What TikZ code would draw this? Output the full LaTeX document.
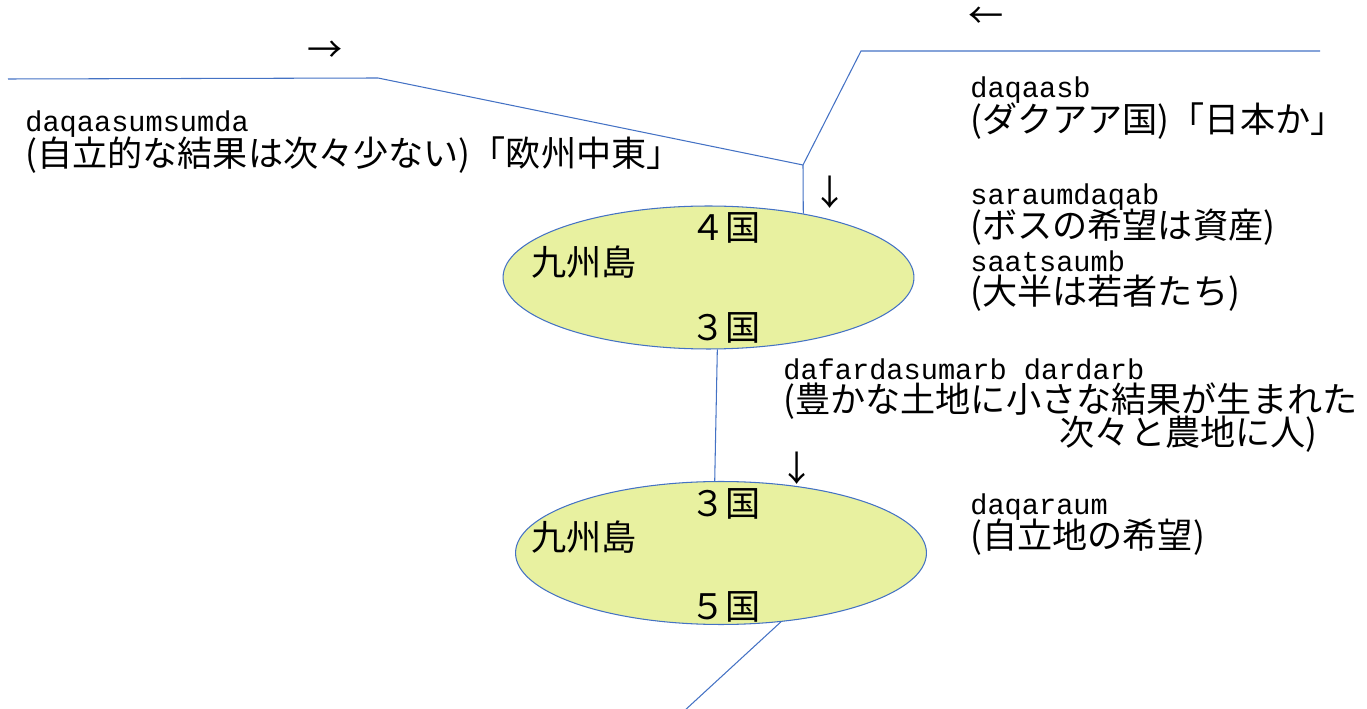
\documentclass[tikz,border=0pt]{standalone}
\usepackage{fontspec}
\usepackage{tikz}
\usetikzlibrary{shapes.geometric}
\newfontfamily\jpfont{Noto Sans CJK JP}
\newfontfamily\latinfont{Liberation Mono}
\definecolor{routeblue}{HTML}{4472C4}
\definecolor{islandfill}{HTML}{E8F1A0}

\begin{document}
\begin{tikzpicture}[x=0.02cm, y=-0.02cm]
            \tikzset{island/.style={ellipse, draw=routeblue, line width=0.6pt, fill=islandfill, inner sep=0pt, minimum width=8.22cm, minimum height=2.86cm}};
            \tikzset{route/.style={routeblue, line width=0.6pt}};
            \tikzset{jp text/.style={inner sep=0pt, anchor=base west, font={\jpfont\fontsize{20}{21}\selectfont}}};
            \tikzset{latin text/.style={inner sep=0pt, anchor=base west, font={\latinfont\fontsize{16.3}{20}\selectfont}}};
            \tikzset{flow arrow/.style={inner sep=0pt, font={\jpfont\fontsize{20}{21}\selectfont}}};
            \useasboundingbox (0, 0) rectangle (1367, 709);
            % Islands
            \node[island] (isle1) at (708.5, 277.5) {};
            \node[island] (isle2) at (721, 553) {};
            % Route bends
            \coordinate (westEnd) at (8, 79);
            \coordinate (westBend) at (378, 78);
            \coordinate (meet) at (803, 165);
            \coordinate (eastBend) at (861, 51);
            \coordinate (eastEnd) at (1320, 51);
            \coordinate (southEnd) at (683, 712);
            % Routes
            \draw[route] (westEnd) -- (westBend) -- (meet) -- (isle1.34);
            \draw[route] (eastEnd) -- (eastBend) -- (meet);
            \draw[route] (isle1.-83) -- (isle2.95);
            \draw[route] (isle2.-49) -- (southEnd);
            % Direction marks
            \node[flow arrow] (arrowEast) at (325, 52) {→};
            \node[flow arrow] (arrowWest) at (986, 18) {←};
            \node[flow arrow] (arrowDownA) at (830, 192) {↓};
            \node[flow arrow] (arrowDownB) at (797, 468) {↓};
            % Island labels
            \node[jp text] (isle1North) at (690, 241) {４国};
            \node[jp text] (isle1Name) at (531, 276) {九州島};
            \node[jp text] (isle1South) at (690, 341) {３国};
            \node[jp text] (isle2North) at (690, 517) {３国};
            \node[jp text] (isle2Name) at (531, 551) {九州島};
            \node[jp text] (isle2South) at (690, 620) {５国};
            % West route
            \node[latin text] (westA) at (25, 132) {daqaasumsumda};
            \node[jp text] (westB) at (25, 167) {(自立的な結果は次々少ない)「欧州中東」};
            % East route
            \node[latin text] (eastA) at (970, 98) {daqaasb};
            \node[jp text] (eastB) at (970, 133) {(ダクアア国)「日本か」};
            % Upper island notes
            \node[latin text] (noteA) at (970, 205) {saraumdaqab};
            \node[jp text] (noteB) at (970, 239) {(ボスの希望は資産)};
            \node[latin text] (noteC) at (970, 272) {saatsaumb};
            \node[jp text] (noteD) at (970, 305) {(大半は若者たち)};
            % Link between islands
            \node[latin text] (linkA) at (783, 380) {dafardasumarb dardarb};
            \node[jp text] (linkB) at (783, 413) {(豊かな土地に小さな結果が生まれた};
            \node[jp text, anchor=base east] (linkC) at (1318, 446) {次々と農地に人)};
            % Lower island notes
            \node[latin text] (lowA) at (970, 515) {daqaraum};
            \node[jp text] (lowB) at (970, 549) {(自立地の希望)};
\end{tikzpicture}
\end{document}
